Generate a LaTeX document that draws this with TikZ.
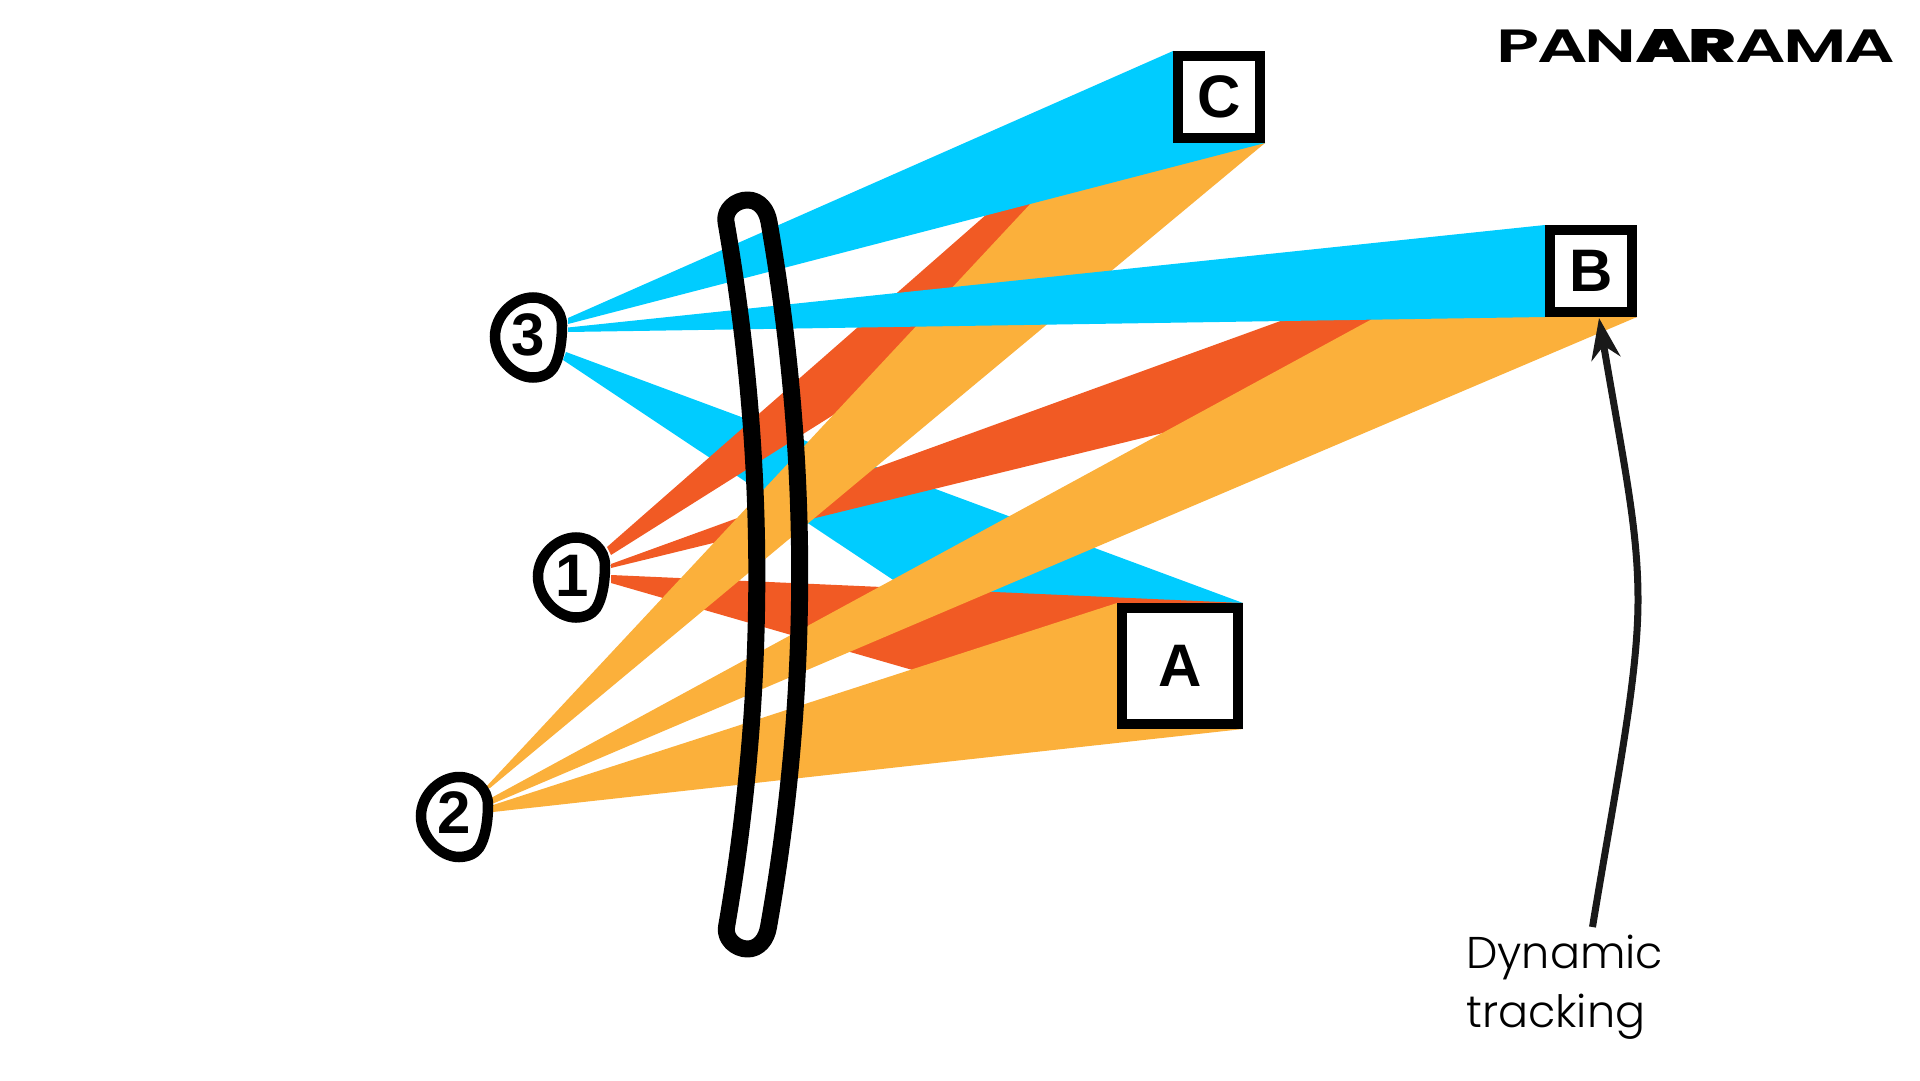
\documentclass[tikz,border=0pt]{standalone}
\usepackage{graphicx}
\usepackage{fontspec}
\usetikzlibrary{arrows.meta}
\setmainfont{Liberation Sans}
\newfontfamily\labelfont{Poppins Light}
\newfontfamily\logofont[LetterSpace=-4]{Poppins SemiBold}
\newfontfamily\logoheavy[LetterSpace=-4]{Poppins Black}
\definecolor{beamblue}{HTML}{00CCFF}
\definecolor{beamred}{HTML}{F15A24}
\definecolor{beamorange}{HTML}{FBB03B}
\pgfdeclarelayer{beams}
\pgfsetlayers{beams,main}
\tikzset{
  tbox/.style={draw=black,fill=white,line width=10pt,font=\fontsize{60}{60}\selectfont\bfseries,inner sep=0pt},
  tboxbig/.style={tbox,minimum size=116pt},
  tboxsmall/.style={tbox,minimum size=82pt},
  digit/.style={font=\fontsize{60}{60}\selectfont\bfseries,inner sep=0pt},
  blob/.style={draw=black,fill=white,line width=10.5pt},
  pillar/.style={draw=black,line width=17pt,line join=round},
  blue/.style={fill=beamblue},
  red/.style={fill=beamred},
  orange/.style={fill=beamorange},
  track/.style={draw=black!90,line width=7pt,-{Stealth[length=41pt,width=29pt,inset=13pt]}}
}
\newcommand{\blobat}[1]{\draw[blob,shift={(#1)}] (4,-40)
  .. controls (20,-40) and (33,-28) .. (33,-12)
  .. controls (33,5) and (30,22) .. (24,31)
  .. controls (20,37) and (12,40) .. (4,40)
  .. controls (-15,40) and (-34,20) .. (-34,-1)
  .. controls (-34,-22) and (-15,-40) .. (4,-40) -- cycle;}
\begin{document}
\begin{tikzpicture}[x=1pt,y=-1pt]
\useasboundingbox (0,0) rectangle (1920,1081);
% targets
\node[tboxbig] (A) at (1180,666) {A};
\node[tboxsmall] (B) at (1591,271) {B};
\node[tboxsmall] (C) at (1219,97) {C};
% sources
\coordinate (c3) at (529,337.5);
\coordinate (c1) at (572,577.5);
\coordinate (c2) at (455,817);
\blobat{c3}
\blobat{c1}
\blobat{c2}
\node[digit] (n3) at (528.5,335) {3};
\node[digit] (n1) at (572,576) {1};
\node[digit] (n2) at (454,813) {2};
% beam start points
\coordinate (s3c1) at (568,318);
\coordinate (s3c2) at (568,324);
\coordinate (s3b1) at (568,327.5);
\coordinate (s3b2) at (568,332);
\coordinate (s3a1) at (566,352);
\coordinate (s3a2) at (563,360);
\coordinate (s1c1) at (607,547);
\coordinate (s1c2) at (611,555);
\coordinate (s1b1) at (611,564);
\coordinate (s1b2) at (611,568);
\coordinate (s1a1) at (611,575);
\coordinate (s1a2) at (611,583);
\coordinate (s2c1) at (485,788);
\coordinate (s2c2) at (490,788);
\coordinate (s2b1) at (491,798);
\coordinate (s2b2) at (492,804);
\coordinate (s2a1) at (493,805);
\coordinate (s2a2) at (493,812);
\begin{pgfonlayer}{beams}
\fill[blue] (s3a1) -- (A.north east) -- (A.south west) -- (s3a2) -- cycle;
\fill[red] (s1c1) -- (C.north west) -- (C.south east) -- (s1c2) -- cycle;
\fill[red] (s1b1) -- (B.north west) -- (B.south east) -- (s1b2) -- cycle;
\fill[red] (s1a1) -- (A.north east) -- (A.south west) -- (s1a2) -- cycle;
\fill[orange] (s2c1) -- (C.north west) -- (C.south east) -- (s2c2) -- cycle;
\fill[orange] (s2b1) -- (B.north west) -- (B.south east) -- (s2b2) -- cycle;
\fill[orange] (s2a1) -- (A.north west) -- (A.south east) -- (s2a2) -- cycle;
\fill[blue] (s3b1) -- (B.north west) -- (B.south west) -- (s3b2) -- cycle;
\fill[blue] (s3c1) -- (C.north west) -- (C.south east) -- (s3c2) -- cycle;
\end{pgfonlayer}
% curved pillar
\draw[pillar] (726,222) .. controls (767,457) and (767,692) .. (726.5,927)
  .. controls (724.5,939) and (736,949) .. (747.5,949)
  .. controls (759,949) and (766.5,939) .. (768.5,927)
  .. controls (810,692) and (810,457) .. (769,222)
  .. controls (767,210) and (759.5,200) .. (747.5,200)
  .. controls (735.5,200) and (724,210) .. (726,222) -- cycle;
% label, arrow, logo
\node[anchor=base west,inner sep=0pt,font=\labelfont\fontsize{44.5}{59}\selectfont,align=left] (dyn) at (1466,1027) {Dynamic\\tracking};
\coordinate (tracktail) at (1592.5,927);
\coordinate (tracktip) at (1599,318);
\draw[track] (tracktail) .. controls (1615,790) and (1638,680) .. (1638,600)
  .. controls (1638,530) and (1625,470) .. (tracktip);
\node[inner sep=0pt] (logo) at (1696,45.5) {\resizebox{398pt}{33pt}{\logofont PAN{\logoheavy AR}AMA}};
\end{tikzpicture}
\end{document}
